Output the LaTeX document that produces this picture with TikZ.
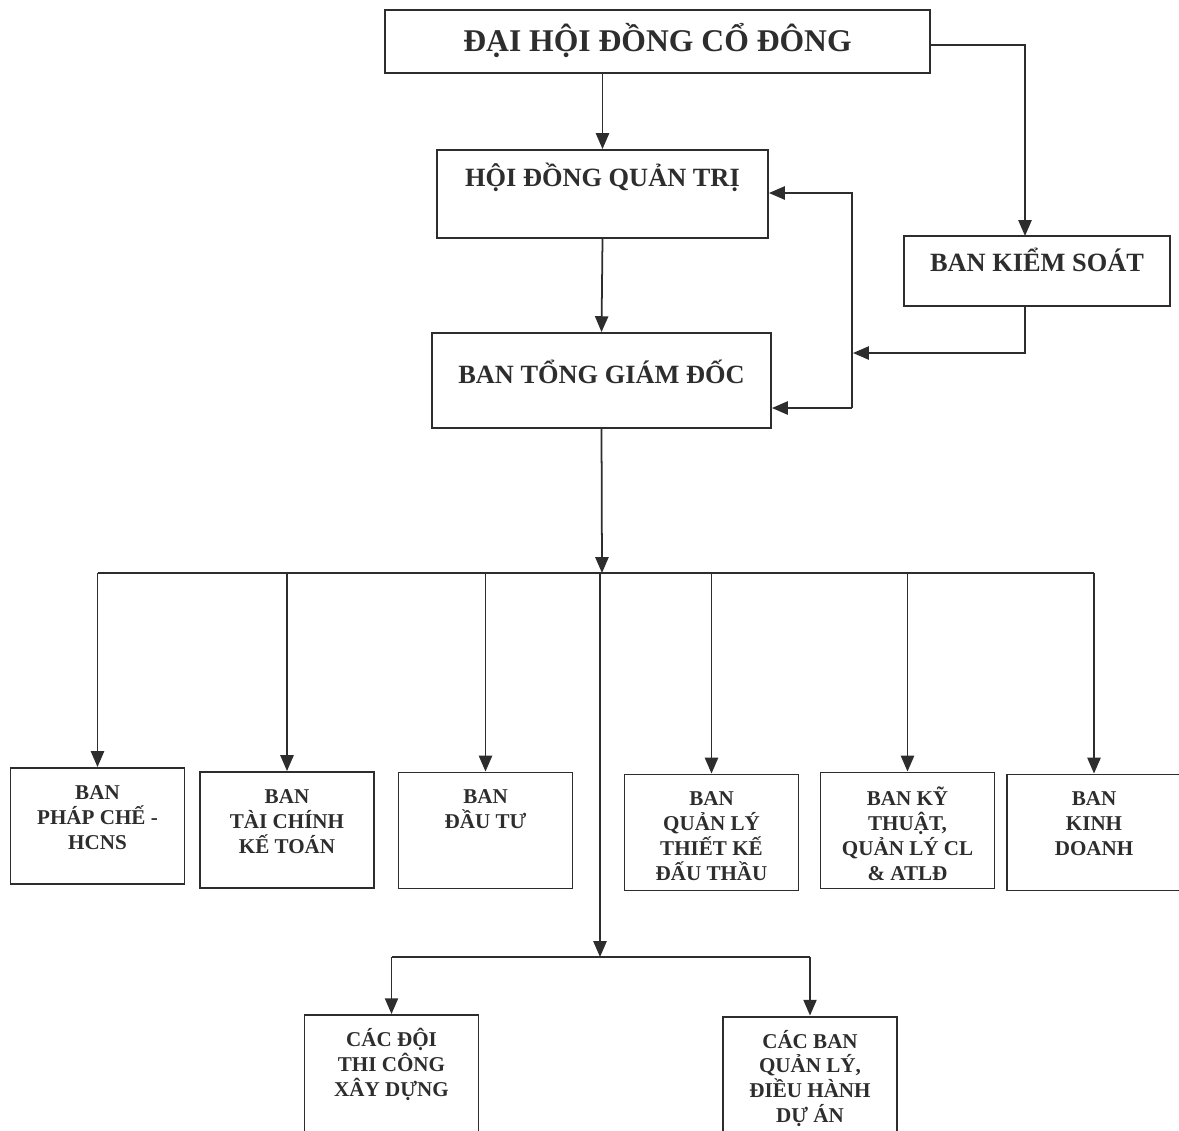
\documentclass[tikz,border=0pt]{standalone}
\usepackage{fontspec}
\setmainfont{Liberation Serif}
\usetikzlibrary{arrows.meta,positioning,calc}
\definecolor{ink}{RGB}{45,45,45}
\begin{document}
\begin{tikzpicture}[x=0.02cm,y=-0.02cm,
  frame/.style={draw=ink,line width=1.1pt,inner sep=0pt},
  unit/.style={frame,minimum width=3.48cm,minimum height=2.32cm},
  head/.style={inner sep=0pt,anchor=base,text=ink,font=\bfseries\fontsize{15}{18}\selectfont},
  txt/.style={inner sep=0pt,anchor=north,align=center,text=ink,font=\bfseries\fontsize{12}{14.2}\selectfont},
  ln/.style={draw=ink,line width=1pt},
  arr/.style={ln,-{Triangle[length=9pt,width=7.5pt]}}]
\useasboundingbox (0,0) rectangle (1179,1130);
%\draw[very thin, gray] (0,0) grid[step=50] (1179,1130);
% top levels
\node[frame,minimum width=10.9cm,minimum height=1.26cm] (dhdcd) at (657.5,41.5) {};
\node[head,font=\bfseries\fontsize{18}{21}\selectfont] (dhdcd-t) at ($(dhdcd.north)+(0,42)$) {ĐẠI HỘI ĐỒNG CỔ ĐÔNG};
\node[frame,minimum width=6.62cm,minimum height=1.76cm] (hdqt) at (602.5,194) {};
\node[head] (hdqt-t) at ($(hdqt.north)+(0,37)$) {HỘI ĐỒNG QUẢN TRỊ};
\node[frame,minimum width=5.32cm,minimum height=1.4cm] (bks) at (1037,271) {};
\node[head] (bks-t) at ($(bks.north)+(0,36)$) {BAN KIỂM SOÁT};
\node[frame,minimum width=6.78cm,minimum height=1.9cm] (btgd) at (601.5,380.5) {};
\node[head] (btgd-t) at ($(btgd.north)+(0,51)$) {BAN TỔNG GIÁM ĐỐC};
% departments
\node[unit] (b1) at (97.5,826) {};
\node[unit] (b2) at (287,830) {};
\node[unit] (b3) at (485.5,830.5) {};
\node[unit] (b4) at (711.5,832.5) {};
\node[unit] (b5) at (907.5,830.5) {};
\node[unit] (b6) at (1094,832.5) {};
\node[unit,minimum height=2.5cm] (c1) at (391.5,1077.5) {};
\node[unit,minimum height=2.5cm] (c2) at (810,1079) {};
\node[txt] (b1-t) at ($(b1.north)+(0,18)$) {BAN\\PHÁP CHẾ -\\HCNS};
\node[txt] (b2-t) at ($(b2.north)+(0,18)$) {BAN\\TÀI CHÍNH\\KẾ TOÁN};
\node[txt] (b3-t) at ($(b3.north)+(0,18)$) {BAN\\ĐẦU TƯ};
\node[txt] (b4-t) at ($(b4.north)+(0,18)$) {BAN\\QUẢN LÝ\\THIẾT KẾ\\ĐẤU THẦU};
\node[txt] (b5-t) at ($(b5.north)+(0,15)$) {BAN KỸ\\THUẬT,\\QUẢN LÝ CL\\\& ATLĐ};
\node[txt] (b6-t) at ($(b6.north)+(0,18)$) {BAN\\KINH\\DOANH};
\node[txt] (c1-t) at ($(c1.north)+(0,14)$) {CÁC ĐỘI\\THI CÔNG\\XÂY DỰNG};
\node[txt] (c2-t) at ($(c2.north)+(0,14)$) {CÁC BAN\\QUẢN LÝ,\\ĐIỀU HÀNH\\DỰ ÁN};
% junctions
\coordinate (ksin) at (1025,236);
\coordinate (ksout) at (1025,306);
\coordinate (loopT) at (852,193);
\coordinate (loopB) at (852,408);
\coordinate (loopM) at (853,353);
\coordinate (bus) at (602,573);
\coordinate (bus2) at (600,957);
% connectors
\draw[arr] (dhdcd.south -| hdqt.north) -- (hdqt.north);
\draw[arr] (dhdcd.east |- 0,45) -| (ksin);
\draw[arr] (hdqt.south) -- (btgd.north);
\draw[arr] (loopB) -- (loopT) -- (loopT -| hdqt.east);
\draw[arr] (loopB) -- (loopB -| btgd.east);
\draw[arr] (ksout) |- (loopM);
\draw[arr] (btgd.south) -- (bus);
\draw[ln] (b1.north |- bus) -- (b6.north |- bus);
\foreach \b in {b1,b2,b3,b4,b5,b6}
  \draw[arr] (\b.north |- bus) -- (\b.north);
\draw[arr] (bus -| bus2) -- (bus2);
\draw[ln] (c1.north |- bus2) -- (c2.north |- bus2);
\draw[arr] (c1.north |- bus2) -- (c1.north);
\draw[arr] (c2.north |- bus2) -- (c2.north);
\end{tikzpicture}
\end{document}
